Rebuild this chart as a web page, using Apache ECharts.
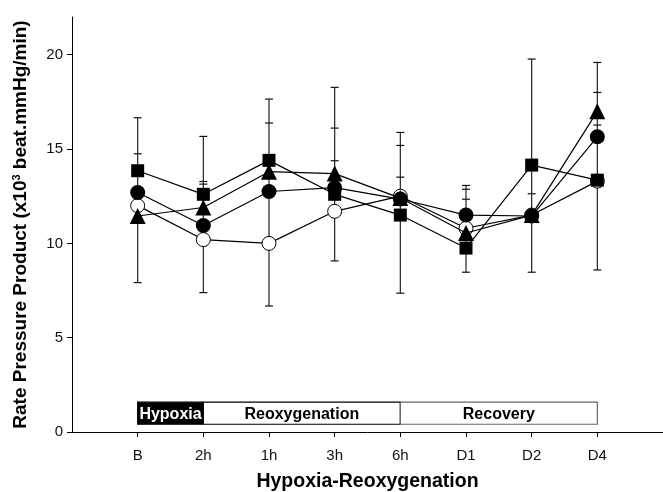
<!DOCTYPE html>
<html>
<head>
<meta charset="utf-8">
<script src="https://cdn.jsdelivr.net/npm/echarts@6/dist/echarts.min.js"></script>
<style>html,body{margin:0;padding:0;background:#fff}#c{width:663px;height:492px}</style>
</head>
<body>
<div id="c"></div>
<script>
// ---- data ----
var categories = ['B', '2h', '1h', '3h', '6h', 'D1', 'D2', 'D4'];
var yTicks = [0, 5, 10, 15, 20];

var seriesOpenCircle = [12.0, 10.2, 10.0, 11.7, 12.5, 10.8, 11.5, 13.3];
var seriesSquare     = [13.85, 12.6, 14.4, 12.6, 11.5, 9.75, 14.15, 13.35];
var seriesCircle     = [12.7, 10.95, 12.75, 12.95, 12.35, 11.5, 11.45, 15.65];
var seriesTriangle   = [11.45, 11.9, 13.8, 13.7, 12.4, 10.55, 11.5, 17.0];

var errTop1 = [16.66, 15.67, 17.65, 18.27, 15.88, 13.07, 19.77, 19.59];
var errTop2 = [14.75, 13.28, 16.38, 16.11, 15.19, 12.87, 12.63, 18.0];
var errTop3 = [null, 13.14, null, 14.38, 13.51, 12.34, null, 16.27];
var errLow  = [7.92, 7.39, 6.68, 9.07, 7.36, 8.47, 8.47, 8.59];

var phaseLabels = ['Hypoxia', 'Reoxygenation', 'Recovery'];
var phaseStart  = ['B', '2h', '6h'];
var phaseEnd    = ['2h', '6h', 'D4'];

// ---- build ----
function pts(arr) { return arr.map(function (v, i) { return [i + 1, v]; }); }
var errData = categories.map(function (c, i) {
  return [i + 1, errLow[i], errTop1[i], errTop2[i], errTop3[i]];
});
var phaseData = phaseLabels.map(function (n, i) {
  return [categories.indexOf(phaseStart[i]) + 1, categories.indexOf(phaseEnd[i]) + 1, i];
});
var FONT = '"Liberation Sans", Arial, sans-serif';

var chart = echarts.init(document.getElementById('c'), null, { renderer: 'canvas' });
chart.setOption({
  animation: false,
  backgroundColor: '#fff',
  grid: { left: 72, right: 0, top: 17, bottom: 60, containLabel: false, outerBoundsMode: 'none' },
  xAxis: {
    type: 'value', min: 0, max: 9,
    splitLine: { show: false },
    axisLine: { lineStyle: { color: '#000', width: 1 } },
    axisTick: { customValues: categories.map(function (c, i) { return i + 1; }), length: 5, lineStyle: { color: '#000' } },
    axisLabel: {
      customValues: categories.map(function (c, i) { return i + 1; }),
      formatter: function (v) { return categories[v - 1] || ''; },
      color: '#111', fontFamily: FONT, fontSize: 15, margin: 16
    },
    name: 'Hypoxia-Reoxygenation', nameLocation: 'middle', nameGap: 40,
    nameTextStyle: { color: '#000', fontFamily: FONT, fontSize: 19.5, fontWeight: 'bold' }
  },
  yAxis: {
    type: 'value', min: 0, max: 22,
    splitLine: { show: false },
    axisLine: { show: true, lineStyle: { color: '#000', width: 1 } },
    axisTick: { show: true, customValues: yTicks, length: 5, lineStyle: { color: '#000' } },
    axisLabel: { customValues: yTicks, color: '#111', fontFamily: FONT, fontSize: 15, margin: 9 },
    name: 'Rate Pressure Product (x10{sup|3} beat.mmHg/min)',
    nameLocation: 'middle', nameGap: 41,
    nameTextStyle: {
      color: '#000', fontFamily: FONT, fontSize: 19, fontWeight: 'bold',
      rich: { sup: { fontSize: 11, fontWeight: 'bold', fontFamily: FONT, color: '#000', verticalAlign: 'top', padding: [0, 0, 9, 0] } }
    }
  },
  series: [
    {
      type: 'custom', z: 1,
      data: errData,
      renderItem: function (params, api) {
        var x = api.value(0);
        var vals = [api.value(1), api.value(2), api.value(3), api.value(4)].filter(function (v) { return v != null && !isNaN(v); });
        var lo = Math.min.apply(null, vals), hi = Math.max.apply(null, vals);
        var pLo = api.coord([x, lo]), pHi = api.coord([x, hi]);
        var children = [{
          type: 'line', shape: { x1: pLo[0], y1: pLo[1], x2: pHi[0], y2: pHi[1] },
          style: { stroke: '#222', lineWidth: 1.2 }
        }];
        vals.forEach(function (v) {
          var p = api.coord([x, v]);
          children.push({ type: 'line', shape: { x1: p[0] - 4, y1: p[1], x2: p[0] + 4, y2: p[1] }, style: { stroke: '#111', lineWidth: 1.2 } });
        });
        return { type: 'group', children: children };
      }
    },
    {
      type: 'custom', z: 1,
      data: phaseData,
      renderItem: function (params, api) {
        var a = api.coord([api.value(0), 1.58]);
        var b = api.coord([api.value(1), 0.41]);
        var idx = api.value(2);
        var dark = idx === 0;
        return {
          type: 'group',
          children: [
            { type: 'rect', shape: { x: a[0], y: a[1], width: b[0] - a[0], height: b[1] - a[1] },
              style: { fill: dark ? '#000' : '#fff', stroke: idx === 2 ? '#666' : '#000', lineWidth: 1.2 } },
            { type: 'text', style: { text: phaseLabels[idx], x: (a[0] + b[0]) / 2, y: (a[1] + b[1]) / 2 + 1,
              align: 'center', verticalAlign: 'middle', fill: dark ? '#fff' : '#000',
              font: 'bold 16px ' + FONT } }
          ]
        };
      }
    },
    {
      type: 'line', data: pts(seriesOpenCircle), z: 2,
      symbol: 'circle', symbolSize: 14,
      lineStyle: { color: '#000', width: 1.2 },
      itemStyle: { color: '#fff', borderColor: '#000', borderWidth: 1 }
    },
    {
      type: 'line', data: pts(seriesSquare), z: 3,
      symbol: 'rect', symbolSize: 13,
      lineStyle: { color: '#000', width: 1.2 },
      itemStyle: { color: '#000', borderColor: '#000', borderWidth: 0 }
    },
    {
      type: 'line', data: pts(seriesCircle), z: 4,
      symbol: 'circle', symbolSize: 15,
      lineStyle: { color: '#000', width: 1.2 },
      itemStyle: { color: '#000', borderColor: '#000', borderWidth: 0 }
    },
    {
      type: 'line', data: pts(seriesTriangle), z: 5,
      symbol: 'triangle', symbolSize: 16,
      lineStyle: { color: '#000', width: 1.2 },
      itemStyle: { color: '#000', borderColor: '#000', borderWidth: 0 }
    }
  ]
});
</script>
</body>
</html>
